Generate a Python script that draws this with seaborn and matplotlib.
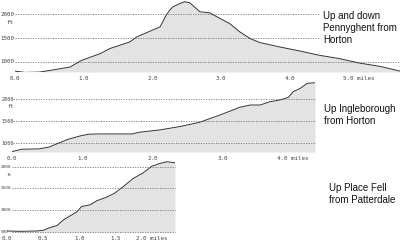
import matplotlib
matplotlib.use("Agg")
import matplotlib.pyplot as plt
import matplotlib.transforms as mtransforms
import seaborn as sns
import pandas as pd

# ---- data ----
p1_miles = [0.0, 0.15, 0.36, 0.51, 0.8, 0.97, 1.24, 1.38, 1.67, 1.77, 2.11, 2.2, 2.25, 2.3, 2.4, 2.47, 2.54, 2.69,
            2.83, 2.98, 3.12, 3.27, 3.42, 3.56, 3.85, 4.14, 4.43, 4.72, 5.01, 5.31, 5.6]
p1_ft = [800, 772, 780, 815, 885, 1028, 1170, 1277, 1417, 1523, 1736, 1985, 2090, 2162, 2230, 2268, 2247, 2055,
         2034, 1915, 1808, 1630, 1489, 1404, 1311, 1226, 1134, 1064, 970, 900, 800]

p2_miles = [0.0, 0.14, 0.38, 0.52, 0.66, 0.8, 0.97, 1.09, 1.24, 1.52, 1.71, 1.81, 2.1, 2.38, 2.67, 2.96, 3.24,
            3.39, 3.53, 3.67, 3.81, 3.93, 4.0, 4.1, 4.2, 4.31]
p2_ft = [813, 867, 874, 912, 1002, 1092, 1167, 1205, 1212, 1212, 1212, 1250, 1302, 1376, 1475, 1640, 1813,
         1865, 1865, 1940, 1977, 2037, 2165, 2241, 2354, 2367]

p3_miles = [0.0, 0.18, 0.41, 0.5, 0.59, 0.69, 0.78, 0.87, 0.96, 1.03, 1.15, 1.24, 1.38, 1.49, 1.61, 1.74,
            1.88, 2.0, 2.11, 2.21, 2.32]
p3_ft = [516, 509, 516, 532, 593, 640, 772, 865, 951, 1081, 1121, 1214, 1300, 1393, 1547, 1726,
         1858, 2012, 2074, 2114, 2091]

titles = ["Up and down\nPennyghent from\nHorton", "Up Ingleborough\nfrom Horton", "Up Place Fell\nfrom Patterdale"]
y_ticks_1 = [1000, 1500, 2000]
y_ticks_2 = [1000, 1500, 2000]
y_ticks_3 = [500, 1000, 1500, 2000]
x_ticks_1 = [0.0, 1.0, 2.0, 3.0, 4.0, 5.0]
x_ticks_2 = [0.0, 1.0, 2.0, 3.0, 4.0]
x_ticks_3 = [0.0, 0.5, 1.0, 1.5, 2.0]

sns.set_style("white")
plt.rcParams['font.family'] = ['Liberation Sans', 'DejaVu Sans']

fig = plt.figure(figsize=(4, 2.4), dpi=100)
W, H = 400, 240


def rect(l, t, r, b):
    return [l / W, 1 - b / H, (r - l) / W, (b - t) / H]


panels = [
    dict(miles=p1_miles, ft=p1_ft, rect=(15, 0, 400, 72), xlim=(0, 5.6), ylim=(781, 2304),
         yt=y_ticks_1, xt=x_ticks_1, title=titles[0], tpos=(323, 28), box=True, lab_x=0.5, grid_x=15,
         lab_fs=4.2),
    dict(miles=p2_miles, ft=p2_ft, rect=(12, 82, 315, 152), xlim=(0, 4.31), ylim=(804, 2384),
         yt=y_ticks_2, xt=x_ticks_2, title=titles[1], tpos=(324, 115), box=False, lab_x=1.5, grid_x=13,
         lab_fs=3.7),
    dict(miles=p3_miles, ft=p3_ft, rect=(7, 160, 175, 232), xlim=(0, 2.32), ylim=(493, 2155),
         yt=y_ticks_3, xt=x_ticks_3, title=titles[2], tpos=(329, 194), box=False, lab_x=0.3, grid_x=12,
         lab_fs=3.2),
]

mono = ['DejaVu Sans Mono']
for p in panels:
    ax = fig.add_axes(rect(*p["rect"]))
    df = pd.DataFrame({"miles": p["miles"], "ft": p["ft"]})
    ax.fill_between(df["miles"], df["ft"], p["ylim"][0], color="#e3e3e3", zorder=1, linewidth=0)
    sns.lineplot(data=df, x="miles", y="ft", ax=ax, color="#333333", linewidth=0.7, zorder=3)
    ax.set_xlim(*p["xlim"])
    ax.set_ylim(*p["ylim"])
    for s in ax.spines.values():
        s.set_visible(False)
    ax.set_facecolor("none")
    l, t, r, b = p["rect"]
    gx0 = (p["grid_x"] - l) / (r - l)
    for yv in p["yt"]:
        ax.axhline(yv, xmin=gx0, xmax=1, color="#777777", linewidth=0.6, linestyle=(0, (1.5, 1.5)),
                   zorder=2, clip_on=False)
    ax.set_yticks([])
    # y labels as text at figure-pixel x, data y
    trans = mtransforms.blended_transform_factory(fig.transFigure, ax.transData)
    for yv in p["yt"]:
        ax.text(p["lab_x"] / W, yv, str(yv), transform=trans, ha="left", va="center",
                fontsize=p["lab_fs"], family=mono, color="#444444", clip_on=False)
    span = p["ylim"][1] - p["ylim"][0]
    ax.text((p["lab_x"] + 6) / W, p["yt"][-1] - span * 0.11, "ft", transform=trans,
            ha="left", va="center", fontsize=p["lab_fs"], family=mono, color="#444444")
    labels = ["{:.1f}".format(v) for v in p["xt"]]
    labels[-1] = labels[-1] + " miles"
    ax.set_xticks(p["xt"])
    ax.set_xticklabels(labels, fontsize=4.2, family=mono, color="#444444")
    ax.tick_params(axis="x", length=2, width=0.5, color="#888888", pad=1, direction="out")
    ax.set_xlabel("")
    ax.set_ylabel("")
    tx, ty = p["tpos"]
    kw = dict(fontsize=7, ha="left", va="center", color="#111111", linespacing=1.2)
    if p["box"]:
        kw["bbox"] = dict(facecolor="white", edgecolor="none", pad=2)
    fig.text(tx / W, 1 - ty / H, p["title"], **kw)

fig.savefig("out.png", dpi=100)
